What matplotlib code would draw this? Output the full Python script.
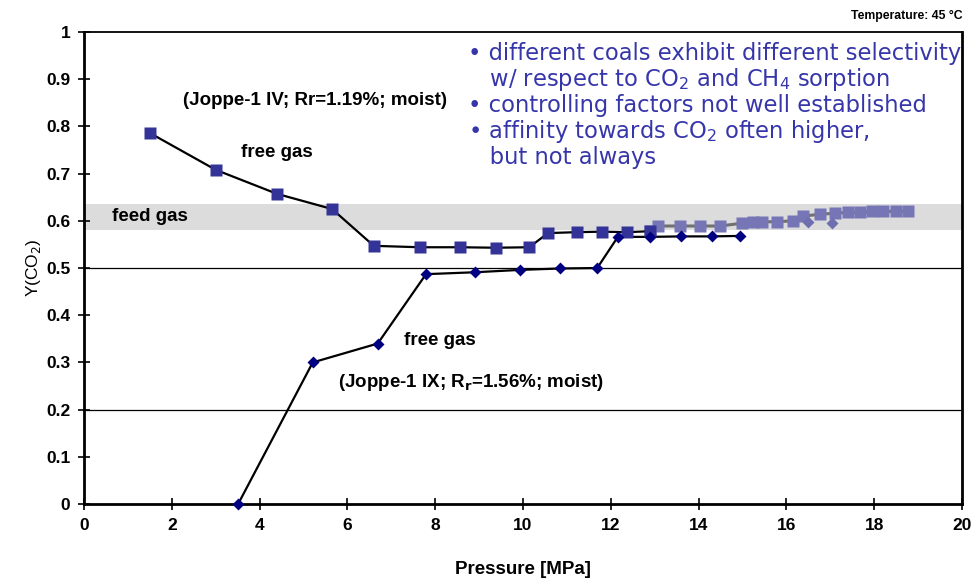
import matplotlib
matplotlib.use("Agg")
import matplotlib.pyplot as plt

# Joppe-1 IV (squares) - main sequence
iv_x = [1.5, 3.0, 4.4, 5.65, 6.6, 7.65, 8.57, 9.38, 10.14, 10.57, 11.23, 11.8, 12.37, 12.9]
iv_y = [0.786, 0.708, 0.657, 0.625, 0.547, 0.544, 0.544, 0.543, 0.544, 0.574, 0.576, 0.577, 0.576, 0.578]
# Joppe-1 IV (squares) - continued, lighter
iv2_x = [12.9, 13.08, 13.58, 14.03, 14.49, 14.99, 15.24, 15.44, 15.79, 16.15, 16.38, 16.77,
         17.1, 17.4, 17.68, 17.95, 18.2, 18.5, 18.77]
iv2_y = [0.578, 0.589, 0.589, 0.589, 0.589, 0.595, 0.598, 0.598, 0.598, 0.600, 0.610, 0.614,
         0.616, 0.618, 0.618, 0.620, 0.620, 0.620, 0.620]
# Joppe-1 IX (diamonds)
ix_x = [3.51, 5.21, 6.69, 7.79, 8.9, 9.93, 10.84, 11.69, 12.16, 12.9, 13.6, 14.3, 14.94]
ix_y = [0.0, 0.30, 0.34, 0.487, 0.491, 0.496, 0.499, 0.50, 0.566, 0.566, 0.567, 0.567, 0.568]
# Joppe-1 IX light diamonds
ix2_x = [16.5, 17.04]
ix2_y = [0.597, 0.595]

feed_band = (0.581, 0.636)
ref_lines = [0.5, 0.2]

xticks = list(range(0, 21, 2))
yticks = [0, 0.1, 0.2, 0.3, 0.4, 0.5, 0.6, 0.7, 0.8, 0.9, 1]
ytick_labels = ["0", "0.1", "0.2", "0.3", "0.4", "0.5", "0.6", "0.7", "0.8", "0.9", "1"]

bullets = [
    "\u2022 different coals exhibit different selectivity",
    "   w/ respect to CO$_2$ and CH$_4$ sorption",
    "\u2022 controlling factors not well established",
    "\u2022 affinity towards CO$_2$ often higher,",
    "   but not always",
]

plt.rcParams['font.family'] = ['Liberation Sans', 'DejaVu Sans']

fig = plt.figure(figsize=(9.75, 5.78), dpi=100)
ax = fig.add_axes([0.0862, 0.128, 0.9005, 0.8166])
ax.set_xlim(0, 20)
ax.set_ylim(0, 1)

ax.axhspan(feed_band[0], feed_band[1], color='#dcdcdc', zorder=0, lw=0)
for yv in ref_lines:
    ax.axhline(yv, color='black', lw=0.9, zorder=1)

ax.plot(iv2_x, iv2_y, color='#707070', lw=2.2, zorder=2)
ax.plot(iv2_x, iv2_y, 's', color='#7676b6', ms=8, mec='none', zorder=3)
ax.plot(iv_x, iv_y, color='black', lw=1.6, zorder=4)
ax.plot(iv_x, iv_y, 's', color='#343498', ms=8, mec='none', zorder=5)
ax.plot(ix2_x, ix2_y, 'D', color='#6f6fb0', ms=6.5, mec='none', zorder=3)
ax.plot(ix_x, ix_y, color='black', lw=1.6, zorder=4)
ax.plot(ix_x, ix_y, 'D', color='#000080', ms=6.5, mec='none', zorder=6, clip_on=False)

ax.set_xticks(xticks)
ax.set_xticklabels([str(t) for t in xticks])
ax.set_yticks(yticks)
ax.set_yticklabels(ytick_labels)
ax.tick_params(axis='both', direction='inout', length=8, width=1.2, labelsize=12.5, pad=6)
for lab in ax.get_xticklabels() + ax.get_yticklabels():
    lab.set_fontweight('bold')
for sp in ax.spines.values():
    sp.set_linewidth(1.3)
ax.spines['left'].set_linewidth(2)
ax.spines['bottom'].set_linewidth(2)
ax.spines['right'].set_linewidth(2)

ax.set_xlabel("Pressure [MPa]", fontsize=13.5, fontweight='bold', labelpad=20)
ax.set_ylabel("Y(CO$_2$)", fontsize=12.5, labelpad=2)

fs = 13.5
ax.text(5.25, 0.855, "(Joppe-1 IV; Rr=1.19%; moist)", fontsize=fs, fontweight='bold',
        ha='center', va='center')
ax.text(4.4, 0.744, "free gas", fontsize=fs, fontweight='bold', ha='center', va='center')
ax.text(1.5, 0.610, "feed gas", fontsize=fs, fontweight='bold', ha='center', va='center')
ax.text(8.1, 0.347, "free gas", fontsize=fs, fontweight='bold', ha='center', va='center')
ax.text(8.82, 0.257, "(Joppe-1 IX; R$_\\mathbf{r}$=1.56%; moist)", fontsize=fs, fontweight='bold',
        ha='center', va='center')

fig.text(0.987, 0.972, "Temperature: 45 \u00b0C", fontsize=8.8, fontweight='bold',
         ha='right', va='center')

y0 = 0.955
for i, line in enumerate(bullets):
    ax.text(8.75, y0 - i * 0.055, line, fontsize=16.3, color='#3636aa',
            family='DejaVu Sans', ha='left', va='center')

fig.savefig("out.png", dpi=100)
